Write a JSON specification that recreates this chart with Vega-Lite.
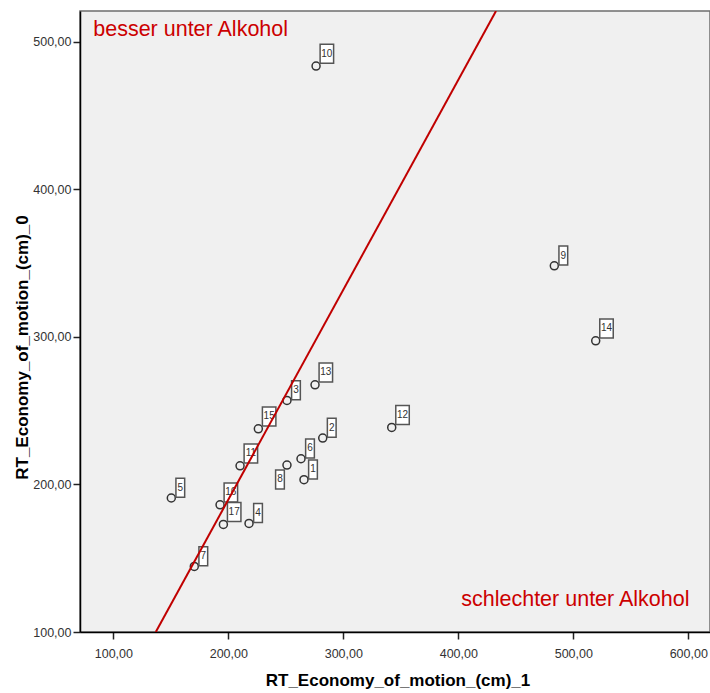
{
  "$schema": "https://vega.github.io/schema/vega-lite/v6.json",
  "autosize": "none",
  "width": 630,
  "height": 621,
  "padding": {"left": 80, "top": 11, "right": 0, "bottom": 61},
  "background": "white",
  "config": {
    "font": "Liberation Sans",
    "view": {"fill": "#f0f0f0", "stroke": "#6e6e6e", "strokeWidth": 1.5}
  },
  "datasets": {
    "cases": [
      {"id": 1, "rt1": 265.8, "rt0": 203.2},
      {"id": 2, "rt1": 282.1, "rt0": 231.4},
      {"id": 3, "rt1": 251.0, "rt0": 256.9},
      {"id": 4, "rt1": 218.0, "rt0": 173.6},
      {"id": 5, "rt1": 150.4, "rt0": 190.8},
      {"id": 6, "rt1": 263.2, "rt0": 217.4},
      {"id": 7, "rt1": 170.4, "rt0": 144.4},
      {"id": 8, "rt1": 251.0, "rt0": 213.1},
      {"id": 9, "rt1": 483.5, "rt0": 348.1},
      {"id": 10, "rt1": 276.3, "rt0": 483.5},
      {"id": 11, "rt1": 210.2, "rt0": 212.6},
      {"id": 12, "rt1": 342.1, "rt0": 238.6},
      {"id": 13, "rt1": 275.4, "rt0": 267.5},
      {"id": 14, "rt1": 519.5, "rt0": 297.3},
      {"id": 15, "rt1": 226.1, "rt0": 237.7},
      {"id": 16, "rt1": 192.8, "rt0": 186.2},
      {"id": 17, "rt1": 195.7, "rt0": 172.9}
    ],
    "diagonal": [
      {"rt1": 136.9, "rt0": 100},
      {"rt1": 432.8, "rt0": 520.8}
    ],
    "noteTop": [{"rt1": 82.5, "rt0": 503.9, "text": "besser unter Alkohol"}],
    "noteBottom": [{"rt1": 601.1, "rt0": 117.8, "text": "schlechter unter Alkohol"}]
  },
  "encoding": {
    "x": {
      "field": "rt1",
      "type": "quantitative",
      "scale": {"domain": [71.0, 618.9], "nice": false, "zero": false},
      "axis": {
        "title": "RT_Economy_of_motion_(cm)_1",
        "values": [100, 200, 300, 400, 500, 600],
        "labelExpr": "replace(format(datum.value, '.2f'), '.', ',')",
        "grid": false,
        "domainColor": "#000000",
        "domainWidth": 1.5,
        "tickColor": "#222222",
        "tickWidth": 1.5,
        "tickSize": 7,
        "labelPadding": 8,
        "labelFontSize": 12.5,
        "labelColor": "#333333",
        "labelFlush": false,
        "labelOverlap": false,
        "titleFontSize": 17,
        "titleFontWeight": "bold",
        "titleColor": "#000000",
        "titleX": 317.5,
        "titleY": 53,
        "titleBaseline": "alphabetic"
      }
    },
    "y": {
      "field": "rt0",
      "type": "quantitative",
      "scale": {"domain": [100, 520.8], "nice": false, "zero": false},
      "axis": {
        "title": "RT_Economy_of_motion_(cm)_0",
        "values": [100, 200, 300, 400, 500],
        "labelExpr": "replace(format(datum.value, '.2f'), '.', ',')",
        "grid": false,
        "domainColor": "#000000",
        "domainWidth": 1.5,
        "tickColor": "#222222",
        "tickWidth": 1.5,
        "tickSize": 7,
        "labelPadding": 2,
        "labelFontSize": 12.5,
        "labelColor": "#333333",
        "labelFlush": false,
        "labelOverlap": false,
        "titleFontSize": 17,
        "titleFontWeight": "bold",
        "titleColor": "#000000",
        "titleAngle": 270,
        "titleX": -53,
        "titleY": 336,
        "titleBaseline": "alphabetic"
      }
    }
  },
  "layer": [
    {
      "data": {"name": "cases"},
      "mark": {"type": "point", "shape": "circle", "filled": false, "size": 64, "stroke": "#333333", "strokeWidth": 1.5, "opacity": 1}
    },
    {
      "data": {"name": "cases"},
      "transform": [{"filter": "datum.id >= 10"}],
      "mark": {"type": "point", "shape": "M-0.71,-1L0.71,-1L0.71,1L-0.71,1Z", "size": 361, "filled": true, "fill": "white", "stroke": "#555555", "strokeWidth": 1.5, "opacity": 1, "xOffset": 10.8, "yOffset": -12.4}
    },
    {
      "data": {"name": "cases"},
      "transform": [{"filter": "datum.id < 10 && datum.id != 8"}],
      "mark": {"type": "point", "shape": "M-0.46,-1L0.46,-1L0.46,1L-0.46,1Z", "size": 361, "filled": true, "fill": "white", "stroke": "#555555", "strokeWidth": 1.5, "opacity": 1, "xOffset": 9, "yOffset": -10.3}
    },
    {
      "data": {"name": "cases"},
      "transform": [{"filter": "datum.id == 8"}],
      "mark": {"type": "point", "shape": "M-0.46,-1L0.46,-1L0.46,1L-0.46,1Z", "size": 361, "filled": true, "fill": "white", "stroke": "#555555", "strokeWidth": 1.5, "opacity": 1, "xOffset": -7, "yOffset": 14.3}
    },
    {
      "data": {"name": "cases"},
      "transform": [{"filter": "datum.id >= 10"}],
      "mark": {"type": "text", "fontSize": 10, "color": "#333333", "align": "center", "baseline": "middle", "dx": 10.8, "dy": -12.4},
      "encoding": {"text": {"field": "id", "type": "nominal"}}
    },
    {
      "data": {"name": "cases"},
      "transform": [{"filter": "datum.id < 10 && datum.id != 8"}],
      "mark": {"type": "text", "fontSize": 10, "color": "#333333", "align": "center", "baseline": "middle", "dx": 9, "dy": -10.3},
      "encoding": {"text": {"field": "id", "type": "nominal"}}
    },
    {
      "data": {"name": "cases"},
      "transform": [{"filter": "datum.id == 8"}],
      "mark": {"type": "text", "fontSize": 10, "color": "#333333", "align": "center", "baseline": "middle", "dx": -7, "dy": 14.3},
      "encoding": {"text": {"field": "id", "type": "nominal"}}
    },
    {
      "data": {"name": "noteTop"},
      "mark": {"type": "text", "fontSize": 21.5, "color": "#cc0000", "align": "left", "baseline": "alphabetic"},
      "encoding": {"text": {"field": "text", "type": "nominal"}}
    },
    {
      "data": {"name": "noteBottom"},
      "mark": {"type": "text", "fontSize": 21.5, "color": "#cc0000", "align": "right", "baseline": "alphabetic"},
      "encoding": {"text": {"field": "text", "type": "nominal"}}
    },
    {
      "data": {"name": "diagonal"},
      "mark": {"type": "line", "color": "#c00000", "strokeWidth": 2, "clip": true}
    }
  ]
}
